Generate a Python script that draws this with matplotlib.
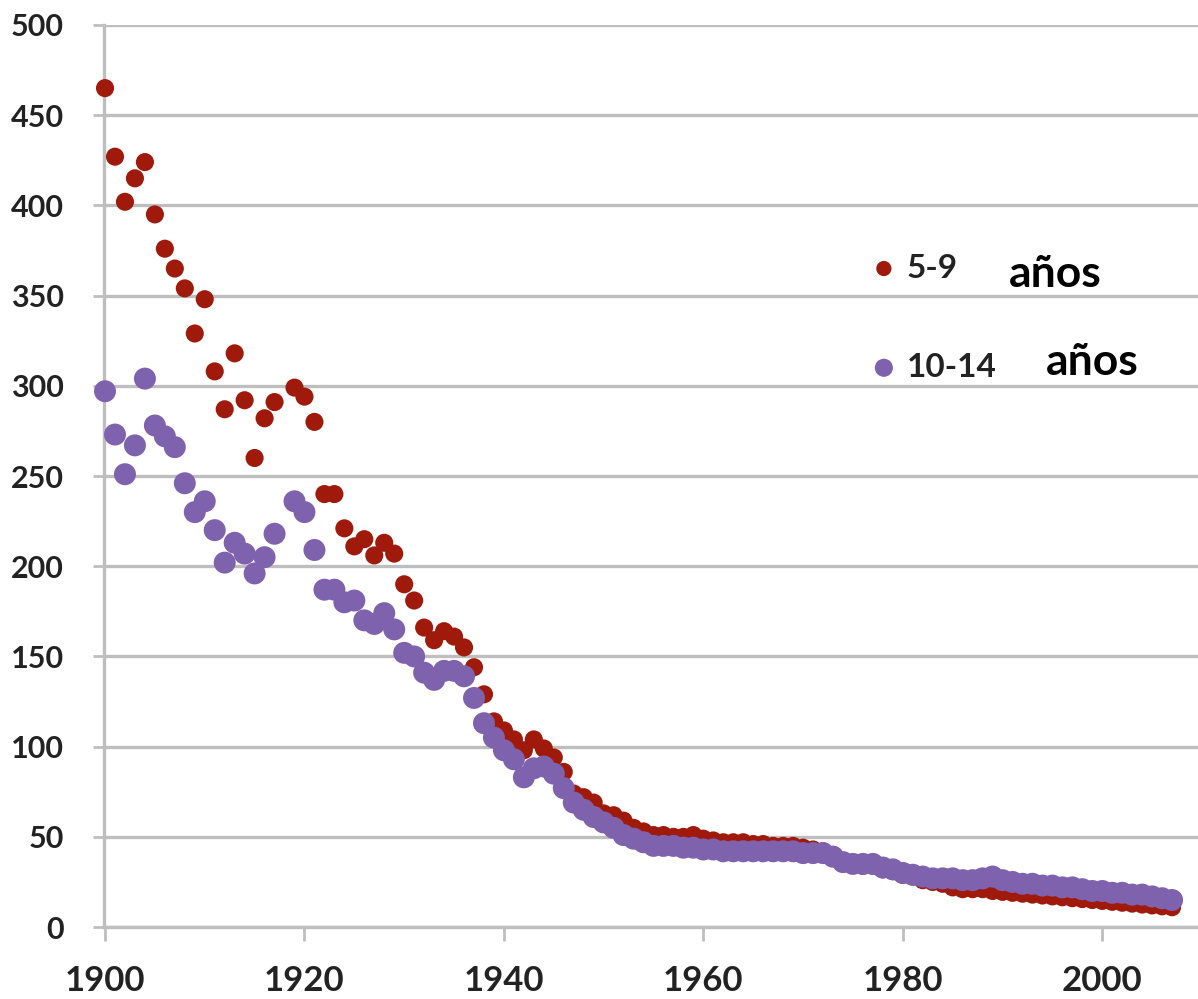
import matplotlib
matplotlib.use("Agg")
import matplotlib.pyplot as plt

# years (1918 has no data in the source chart)
years = [y for y in range(1900, 2008) if y != 1918]

# tasa 5-9 años
rate_5_9 = [465, 427, 402, 415, 424, 395, 376, 365, 354, 329,
            348, 308, 287, 318, 292, 260, 282, 291, 299,
            294, 280, 240, 240, 221, 211, 215, 206, 213, 207,
            190, 181, 166, 159, 164, 161, 155, 144, 129, 114,
            109, 104, 98, 104, 99, 94, 86, 74, 72, 69,
            63, 62, 59, 55, 53, 51, 51, 50, 50, 51,
            49, 48, 47, 47, 47, 46, 46, 45, 45, 45,
            44, 43, 42, 40, 36, 35, 34, 34, 32, 31,
            29, 28, 26, 25, 24, 22, 21, 21, 21, 20,
            19.5, 19, 18.5, 18, 17.5, 17, 16.5, 16, 15.5, 15,
            14.5, 14, 13.5, 13, 12.5, 12, 11.5, 11]

# tasa 10-14 años
rate_10_14 = [297, 273, 251, 267, 304, 278, 272, 266, 246, 230,
              236, 220, 202, 213, 207, 196, 205, 218, 236,
              230, 209, 187, 187, 180, 181, 170, 168, 174, 165,
              152, 150, 141, 137, 142, 142, 139, 127, 113, 105,
              98, 93, 83, 88, 89, 85, 77, 69, 65, 61,
              58, 55, 51, 49, 47, 45, 45, 45, 44, 44,
              43, 43, 42, 42, 42, 42, 42, 42, 42, 42,
              41, 41, 41, 39, 36, 35, 35, 35, 33, 32,
              30, 29, 28, 27, 27, 27, 26, 26, 27, 28,
              26, 25, 24, 24, 23, 23, 22, 22, 21, 20,
              20, 19, 19, 18, 18, 17, 16, 15]

labels = ["5-9", "10-14"]
x_ticks = [1900, 1920, 1940, 1960, 1980, 2000]
y_ticks = [0, 50, 100, 150, 200, 250, 300, 350, 400, 450, 500]

red = "#A01A0C"
purple = "#7F62AE"
grid_col = "#BEBEBE"
txt_col = "#222222"

fig = plt.figure(figsize=(11.98, 9.99), dpi=100)
ax = fig.add_axes([0.086, 0.072, 0.914, 0.903])

ax.scatter(years, rate_5_9, s=170, color=red, edgecolors="none", zorder=3, clip_on=False)
ax.scatter(years, rate_10_14, s=250, color=purple, edgecolors="none", zorder=4, clip_on=False)

ax.set_xlim(1899.8, 2009.6)
ax.set_ylim(0, 500)
ax.set_xticks(x_ticks)
ax.set_yticks(y_ticks)
ax.yaxis.grid(True, color=grid_col, linewidth=2.4)
ax.set_axisbelow(True)

for side in ["top", "right"]:
    ax.spines[side].set_visible(False)
for side in ["left", "bottom"]:
    ax.spines[side].set_color(grid_col)
    ax.spines[side].set_linewidth(2.4)
ax.spines["left"].set_position(("data", 1899.9))

ax.tick_params(axis="y", length=8, width=2, color=grid_col, pad=21,
               labelsize=22, labelcolor=txt_col)
ax.tick_params(axis="x", length=10, width=2, color=grid_col, pad=17,
               labelsize=25, labelcolor=txt_col)
for lab in ax.get_xticklabels() + ax.get_yticklabels():
    lab.set_fontweight("bold")
    lab.set_family("Lato")

# legend written as text, like the source
ax.scatter([1978.1], [365], s=120, color=red, edgecolors="none", clip_on=False, zorder=5)
ax.text(1980.4, 365, labels[0], fontsize=24, fontweight="bold", family="Lato",
        color=txt_col, va="center", ha="left")
ax.text(1990.6, 362, "años", fontsize=32, fontweight="bold", family="Lato",
        color="black", va="center", ha="left")

ax.scatter([1978.1], [310], s=170, color=purple, edgecolors="none", clip_on=False, zorder=5)
ax.text(1980.4, 310, labels[1], fontsize=24, fontweight="bold", family="Lato",
        color=txt_col, va="center", ha="left")
ax.text(1994.3, 313, "años", fontsize=32, fontweight="bold", family="Lato",
        color="black", va="center", ha="left")

fig.savefig("out.png", dpi=100)
